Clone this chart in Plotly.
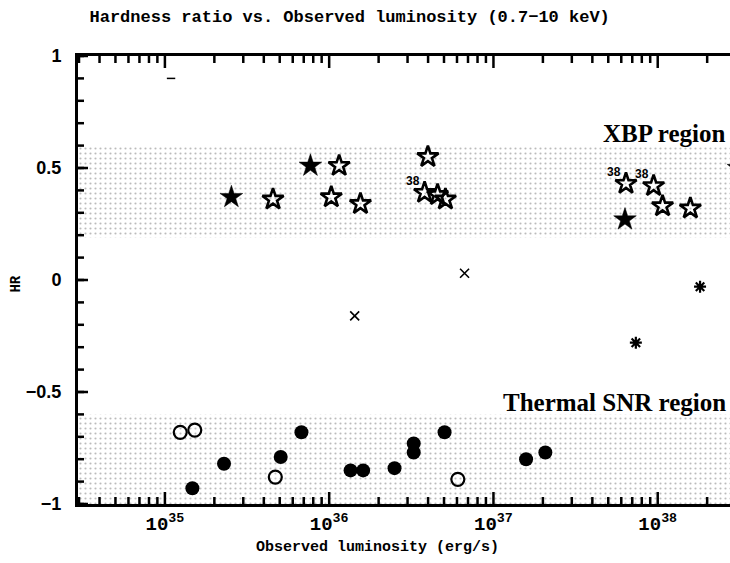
import math
import plotly.graph_objects as go

# Luminosity (erg/s) and hardness ratio for each source class
star_filled_L = [2.54e35, 7.69e35, 6.32e37, 3.1e38]
star_filled_HR = [0.37, 0.51, 0.27, 0.50]

star_open_L = [4.55e35, 1.15e36, 1.03e36, 1.55e36, 3.99e36, 3.81e36, 4.57e36,
               5.10e36, 6.41e37, 9.44e37, 1.07e38, 1.58e38]
star_open_HR = [0.36, 0.51, 0.37, 0.34, 0.55, 0.39, 0.38, 0.36, 0.43, 0.42, 0.33, 0.32]

# Sources tagged "38" (indices into the open-star lists)
tag_idx = [5, 8, 9]
tag_text = "38"

cross_L = [6.67e36, 1.43e36]
cross_HR = [0.03, -0.16]

aster_L = [1.81e38, 7.36e37, 3.0e38]
aster_HR = [-0.03, -0.28, -0.02]

circ_filled_L = [6.78e35, 2.29e35, 5.07e35, 1.47e35, 1.35e36, 1.61e36, 2.50e36,
                 3.27e36, 3.27e36, 5.04e36, 1.58e37, 2.07e37]
circ_filled_HR = [-0.68, -0.82, -0.79, -0.93, -0.85, -0.85, -0.84,
                  -0.73, -0.77, -0.68, -0.80, -0.77]

circ_open_L = [1.24e35, 1.52e35, 4.70e35, 6.07e36]
circ_open_HR = [-0.68, -0.67, -0.88, -0.89]

limit_L = [1.09e35]
limit_HR = [0.90]

# Shaded bands (HR limits) and log-x range
xbp_band = [0.19, 0.60]
snr_band = [-1.0, -0.60]
x_log_range = [34.471, 38.44]
y_range = [-1, 1]
band_L = [1e34, 1e39]

# Tick positions and labels
x_major = [1e35, 1e36, 1e37, 1e38]
x_major_text = ["10<sup>35</sup>", "10<sup>36</sup>", "10<sup>37</sup>", "10<sup>38</sup>"]
x_minor = [m * 10.0 ** e for e in range(34, 39) for m in range(2, 10)]
y_major = [-1, -0.5, 0, 0.5, 1]
y_major_text = ["\u22121", "\u22120.5", "0", "0.5", "1"]
y_minor = [round(-1 + 0.1 * i, 1) for i in range(21)]

W, H = 730, 563
M = dict(l=78, r=0, t=56, b=59)
plot_w = W - M["l"] - M["r"]
plot_h = H - M["t"] - M["b"]

fig = go.Figure()

pattern = dict(shape=".", fgcolor="#777777", bgcolor="white", size=5, solidity=0.15)
for lo, hi in (xbp_band, snr_band):
    fig.add_trace(go.Scatter(
        x=[band_L[0], band_L[1], band_L[1], band_L[0], band_L[0]],
        y=[lo, lo, hi, hi, lo],
        mode="lines", line=dict(width=0), fill="toself",
        fillcolor="rgba(0,0,0,0)", fillpattern=pattern, hoverinfo="skip",
        showlegend=False))

fig.add_trace(go.Scatter(x=star_filled_L, y=star_filled_HR, mode="markers",
                         marker=dict(symbol="star", size=17, color="black",
                                     line=dict(width=0.5, color="black"))))
fig.add_trace(go.Scatter(x=star_open_L, y=star_open_HR, mode="markers",
                         marker=dict(symbol="star-open", size=16, color="black",
                                     line=dict(width=2.6, color="black"))))
fig.add_trace(go.Scatter(x=cross_L, y=cross_HR, mode="markers",
                         marker=dict(symbol="x-thin-open", size=9, color="black",
                                     line=dict(width=1.6, color="black"))))
fig.add_trace(go.Scatter(x=aster_L, y=aster_HR, mode="markers",
                         marker=dict(symbol="asterisk-open", size=10, color="black",
                                     line=dict(width=2.2, color="black"))))
fig.add_trace(go.Scatter(x=circ_filled_L, y=circ_filled_HR, mode="markers",
                         marker=dict(symbol="circle", size=14, color="black")))
fig.add_trace(go.Scatter(x=circ_open_L, y=circ_open_HR, mode="markers",
                         marker=dict(symbol="circle-open", size=13, color="black",
                                     line=dict(width=2.2, color="black"))))
fig.add_trace(go.Scatter(x=limit_L, y=limit_HR, mode="markers",
                         marker=dict(symbol="line-ew-open", size=6, color="black",
                                     line=dict(width=1.5, color="black"))))

# Inward tick marks along the bottom, top and left frame edges:
# one short segment per tick, drawn as its own line so nothing gets merged
y_span = y_range[1] - y_range[0]
x_span = x_log_range[1] - x_log_range[0]
segments = []
for vals, length in ((x_major, 12), (x_minor, 7)):
    dy = length / plot_h * y_span
    for v in vals:
        segments.append(([v, v], [y_range[0], y_range[0] + dy]))
        segments.append(([v, v], [y_range[1], y_range[1] - dy]))
x0 = 10 ** x_log_range[0]
for vals, length in ((y_major, 10), (y_minor, 6)):
    fx = 10 ** (x_log_range[0] + length / plot_w * x_span)
    for v in vals:
        segments.append(([x0, fx], [v, v]))
for sx, sy in segments:
    fig.add_trace(go.Scatter(x=sx, y=sy, mode="lines",
                             line=dict(color="black", width=2.5, simplify=False),
                             hoverinfo="skip", showlegend=False))

annotations = [
    dict(text="<b>Observed luminosity (erg/s)</b>", xref="paper", yref="paper",
         x=0.4586, y=-0.098, xanchor="center", yanchor="middle", showarrow=False,
         font=dict(family="Liberation Mono", size=15, color="black")),
    dict(text="<b>HR</b>", xref="paper", yref="y", x=-0.095, y=-0.02,
         xanchor="center", yanchor="middle", showarrow=False, textangle=-90,
         font=dict(family="Liberation Mono", size=14, color="black")),
    dict(text="<b>XBP region</b>", xref="x", yref="y", x=38.425, y=0.655,
         xanchor="right", yanchor="middle", showarrow=False,
         font=dict(family="Liberation Serif", size=25, color="black")),
    dict(text="<b>Thermal SNR region</b>", xref="x", yref="y", x=38.425, y=-0.545,
         xanchor="right", yanchor="middle", showarrow=False,
         font=dict(family="Liberation Serif", size=25, color="black")),
]
for i in tag_idx:
    annotations.append(dict(
        text="<b>%s</b>" % tag_text, xref="x", yref="y",
        x=math.log10(star_open_L[i]), y=star_open_HR[i], xshift=-12, yshift=12,
        xanchor="center", yanchor="middle", showarrow=False,
        font=dict(family="Liberation Sans", size=12, color="black")))

mono = "Liberation Mono"
fig.update_layout(
    width=W, height=H, margin=M,
    paper_bgcolor="white", plot_bgcolor="white",
    showlegend=False,
    title=dict(text="<b>Hardness ratio vs. Observed luminosity (0.7\u221210 keV)</b>",
               font=dict(family=mono, size=17, color="black"),
               xref="container", yref="container", x=0.479, y=0.972,
               xanchor="center", yanchor="middle"),
    xaxis=dict(type="log", range=x_log_range, tickmode="array", tickvals=x_major,
               ticktext=x_major_text, ticks="", showgrid=False, zeroline=False,
               showline=True, linewidth=3, linecolor="black", mirror=True,
               tickfont=dict(family=mono, size=19, color="black", weight="bold")),
    yaxis=dict(range=y_range, tickmode="array", tickvals=y_major, ticktext=y_major_text,
               ticks="", showgrid=False, zeroline=False,
               showline=True, linewidth=3, linecolor="black", mirror=False,
               tickfont=dict(family="Liberation Sans", size=18, color="black",
                             weight="bold"),
               ticklabelstandoff=10),
    annotations=annotations,
)

fig.write_html("out.html")
